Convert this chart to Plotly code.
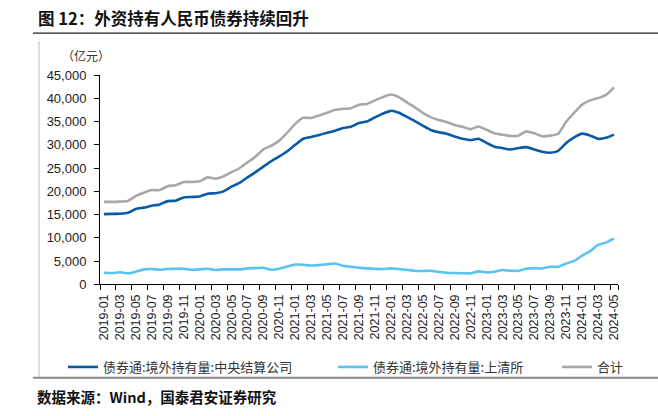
import plotly.graph_objects as go

months = [f"{y}-{m:02d}" for y in range(2019, 2025) for m in range(1, 13)][:65]

central = [15100, 15150, 15200, 15400, 16200, 16500, 16900, 17200, 17900, 18000,
           18700, 18800, 18900, 19500, 19600, 20000, 21000, 21800, 23000, 24100,
           25300, 26500, 27500, 28600, 30000, 31300, 31700, 32100, 32600, 33000,
           33600, 33900, 34700, 35000, 35900, 36700, 37300, 36900, 36000, 35100,
           34100, 33200, 32700, 32400, 31800, 31300, 31000, 31300, 30400, 29600,
           29300, 29000, 29300, 29500, 29000, 28500, 28300, 28700, 30400, 31600,
           32400, 32000, 31300, 31500, 32200]

shanghai = [2520, 2460, 2600, 2390, 2740, 3230, 3300, 3160, 3300, 3370,
            3370, 3160, 3230, 3370, 3090, 3230, 3230, 3230, 3440, 3510,
            3580, 3160, 3370, 3860, 4280, 4210, 4070, 4140, 4350, 4490,
            4000, 3790, 3580, 3440, 3370, 3300, 3440, 3300, 3160, 2940,
            2880, 2940, 2670, 2520, 2450, 2390, 2390, 2810, 2600, 2740,
            3090, 2940, 2940, 3370, 3510, 3440, 3790, 3790, 4490, 5050,
            6180, 7150, 8490, 8980, 9880]

total = [17740, 17740, 17800, 17950, 19000, 19700, 20270, 20270, 21110, 21320,
         22020, 22020, 22160, 23000, 22710, 23210, 24120, 24960, 26220, 27420,
         29020, 29800, 30900, 32600, 34500, 35800, 35760, 36320, 36880, 37510,
         37720, 37860, 38630, 38770, 39540, 40240, 40800, 40240, 39120, 38060,
         36880, 35960, 35330, 34910, 34280, 33860, 33370, 33940, 33230, 32460,
         32180, 31900, 31970, 32880, 32460, 31830, 31970, 32390, 34990, 36880,
         38630, 39540, 40030, 40730, 42350]

names = ["债券通:境外持有量:中央结算公司", "债券通:境外持有量:上清所", "合计"]
colors = ["#0B5AA6", "#5BC3F0", "#A8A8A8"]

W, H = 658, 416
PL, PR, PT, PB = 100, 618, 74.7, 288.7   # plot area in screen pixels
L = PL
T = PT
pw, ph = PR - PL, PB - PT
R = W - L - pw
B = H - T - ph

def px(x):
    return (x - PL) / pw

def py(y):
    return (PB - y) / ph

def cx(x):
    return x / W

def cy(y):
    return (H - y) / H

xs = list(range(len(months)))
fig = go.Figure()
for i, (nm, vals, c) in enumerate(zip(names, [central, shanghai, total], colors)):
    fig.add_trace(go.Scatter(
        x=xs, y=vals, name=nm, mode="lines",
        line=dict(color=c, width=2.6, shape="spline", smoothing=0.5),
        legend="legend" if i == 0 else f"legend{i+1}",
    ))

cjk = "Noto Sans CJK SC"
legend_common = dict(
    orientation="h", xref="container", yref="container",
    yanchor="middle", xanchor="left", itemwidth=30,
    font=dict(family=cjk, size=13, color="#333"),
    bgcolor="rgba(0,0,0,0)", borderwidth=0, tracegroupgap=0,
)
leg_y = cy(367)

fig.update_layout(
    width=W, height=H,
    margin=dict(l=L, r=R, t=T, b=B),
    paper_bgcolor="white", plot_bgcolor="white",
    showlegend=True,
    legend=dict(x=cx(63), y=leg_y, **legend_common),
    legend2=dict(x=cx(333), y=leg_y, **legend_common),
    legend3=dict(x=cx(557), y=leg_y, **legend_common),
    xaxis=dict(
        range=[-0.5, len(months) - 0.5],
        tickmode="array",
        tickvals=xs[::2],
        ticktext=months[::2],
        tickangle=-90,
        ticks="outside", ticklen=4, tickcolor="rgba(0,0,0,0)",
        tickfont=dict(family="Liberation Sans, Arial", size=12.5, color="#222"),
        showline=True, linecolor="black", linewidth=1,
        showgrid=False, zeroline=False,
        minor=dict(tickmode="array",
                   tickvals=[v - 0.5 for v in xs[::2]] + [len(months) - 0.5],
                   ticks="outside", ticklen=5, tickcolor="black", tickwidth=1,
                   showgrid=False),
    ),
    yaxis=dict(
        range=[0, 45000], dtick=5000, tickformat=",",
        ticks="outside", ticklen=5, tickcolor="black",
        ticklabelstandoff=5,
        tickfont=dict(family="Liberation Sans, Arial", size=13, color="#222"),
        showline=True, linecolor="black", linewidth=1,
        showgrid=False, zeroline=False,
    ),
    shapes=[
        dict(type="line", xref="paper", yref="paper", x0=px(33), x1=px(658),
             y0=py(32), y1=py(32), line=dict(color="#222", width=1.2)),
        dict(type="line", xref="paper", yref="paper", x0=px(39), x1=px(39),
             y0=py(40), y1=py(383), line=dict(color="#BFBFBF", width=1)),
        dict(type="line", xref="paper", yref="paper", x0=px(33), x1=px(658),
             y0=py(384), y1=py(384), line=dict(color="#888888", width=2)),
    ],
    annotations=[
        dict(text="<b>图 12：外资持有人民币债券持续回升</b>", xref="paper", yref="paper",
             x=px(36), y=py(16), xanchor="left", yanchor="middle", showarrow=False,
             font=dict(family=cjk, size=16.5, color="#111")),
        dict(text="（亿元）", xref="paper", yref="paper",
             x=px(60), y=py(55), xanchor="left", yanchor="middle", showarrow=False,
             font=dict(family=cjk, size=12, color="#333")),
        dict(text="<b>数据来源：Wind，国泰君安证券研究</b>", xref="paper", yref="paper",
             x=px(35), y=py(403), xanchor="left", yanchor="middle", showarrow=False,
             font=dict(family=cjk, size=14.5, color="#111")),
    ],
)

fig.write_html(
    "out.html",
    config={"displayModeBar": False},
    post_script="document.body.style.margin='0';document.body.style.overflow='hidden';",
)
